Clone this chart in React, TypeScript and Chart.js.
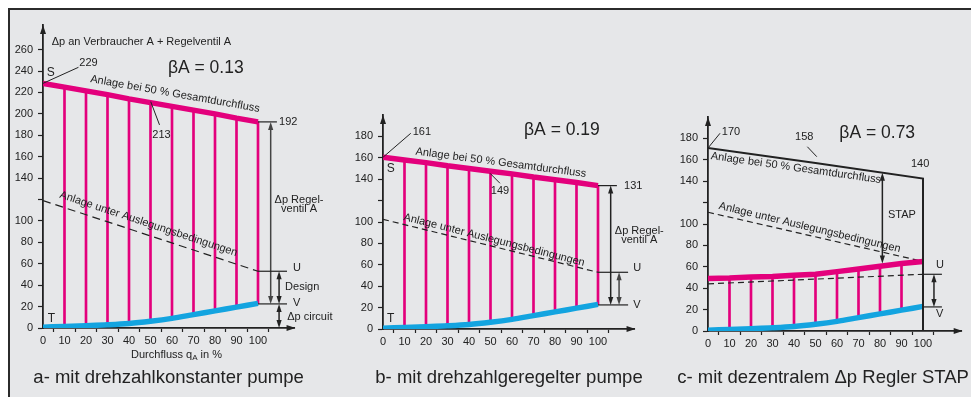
import React, { useEffect, useRef } from "react";
import { Chart, registerables } from "chart.js";
Chart.register(...registerables);

// ---------- data ----------
const FLOW = [0, 10, 20, 30, 40, 50, 60, 70, 80, 90, 100];
const ENDS = [0, 100];
const X_TICKS = [0, 10, 20, 30, 40, 50, 60, 70, 80, 90, 100];
// Δp circuit (curve T -> V), same in all three panels
const BLUE_T = [0.8, 1.5, 2.2, 3, 4.2, 6.3, 9, 12.5, 16, 19.5, 23];

// a- constant speed pump
const A_PINK = [228.5, 225, 221.5, 218, 214, 210.5, 207, 203.5, 200, 196, 192.5];
const A_DESIGN = [119, 53];
const A_Y_TICKS = [0, 20, 40, 60, 80, 100, 120, 140, 160, 180, 200, 220, 240, 260];

// b- variable speed pump
const B_PINK = [160.5, 158, 155.5, 152.5, 150, 147.5, 145, 142, 139.5, 137, 134];
const B_DESIGN = [102.5, 53];
const BC_Y_TICKS = [0, 20, 40, 60, 80, 100, 120, 140, 160, 180];

// c- decentral Δp controller STAP
const C_PINK = [49, 49.5, 50.5, 51, 52, 53, 55.5, 58, 60.5, 63, 65];
const C_FULL_X = [0, 50, 100, 100];
const C_FULL = [171, 157, 142.5, 0];
const C_DESIGN_UP = [111, 65];
const C_DESIGN_LOW = [44, 53];

const LEVEL_U = 53;
const LEVEL_V = 22.5;

// ---------- styles ----------
const FONT = '"Liberation Sans", Arial, Helvetica, sans-serif';
const INK = "#222222";
const PINK = "#e3007c";
const BLUE = "#13a4e0";
const BG = "#e6e7e9";

Chart.defaults.font.family = FONT;
Chart.defaults.color = INK;

const pts = (xs: number[], ys: number[]) => xs.map((x, i) => ({ x, y: ys[i] }));

function tri(ctx: CanvasRenderingContext2D, x: number, y: number, dir: string, len: number, hw: number) {
  ctx.beginPath();
  if (dir === "up") { ctx.moveTo(x, y); ctx.lineTo(x - hw, y + len); ctx.lineTo(x + hw, y + len); }
  else if (dir === "down") { ctx.moveTo(x, y); ctx.lineTo(x - hw, y - len); ctx.lineTo(x + hw, y - len); }
  else { ctx.moveTo(x, y); ctx.lineTo(x - len, y - hw); ctx.lineTo(x - len, y + hw); }
  ctx.closePath();
  ctx.fill();
}

function makePlugin(ops: any[]) {
  return {
    id: "annotations",
    afterDraw(chart: any) {
      const ctx: CanvasRenderingContext2D = chart.ctx;
      const ca = chart.chartArea;
      const X = (v: number) => chart.scales.x.getPixelForValue(v);
      const Y = (v: number) => chart.scales.y.getPixelForValue(v);
      ctx.save();
      ctx.fillStyle = INK;
      tri(ctx, ca.left, ca.top, "up", 9, 3);
      tri(ctx, ca.right + 1, ca.bottom, "right", 9, 3);
      for (const op of ops) {
        const col = op.c || INK;
        ctx.strokeStyle = col;
        ctx.fillStyle = col;
        if (op.k === "text") {
          ctx.font = `${op.size || 11}px ${FONT}`;
          ctx.textAlign = op.align || "left";
          ctx.textBaseline = "middle";
          ctx.save();
          ctx.translate(X(op.x), Y(op.y));
          if (op.rot) ctx.rotate((op.rot * Math.PI) / 180);
          ctx.fillText(op.s, 0, 0);
          ctx.restore();
        } else if (op.k === "line") {
          ctx.lineWidth = op.w || 1;
          ctx.beginPath();
          op.pts.forEach((p: number[], i: number) =>
            i ? ctx.lineTo(X(p[0]), Y(p[1])) : ctx.moveTo(X(p[0]), Y(p[1]))
          );
          ctx.stroke();
        } else if (op.k === "arrow") {
          const x = X(op.x), y1 = Y(op.y1), y2 = Y(op.y2);
          ctx.lineWidth = 1.5;
          ctx.beginPath();
          ctx.moveTo(x, y1 + 4);
          ctx.lineTo(x, y2 - 4);
          ctx.stroke();
          tri(ctx, x, y1, "up", 8, 2.6);
          tri(ctx, x, y2, "down", 8, 2.6);
        } else if (op.k === "rich") {
          let total = 0;
          const widths = op.parts.map((p: any) => {
            ctx.font = `${p.size}px ${FONT}`;
            const w = ctx.measureText(p.s).width;
            total += w;
            return w;
          });
          let x = X(op.x) - total / 2;
          const y = Y(op.y);
          ctx.textAlign = "left";
          ctx.textBaseline = "middle";
          op.parts.forEach((p: any, i: number) => {
            ctx.font = `${p.size}px ${FONT}`;
            ctx.fillText(p.s, x, y + (p.dy || 0));
            x += widths[i];
          });
        }
      }
      ctx.restore();
    },
  };
}

function buildConfig(p: any) {
  return {
    type: "line",
    data: { datasets: p.datasets },
    options: {
      responsive: false,
      animation: false,
      devicePixelRatio: 1,
      events: [],
      layout: { padding: p.padding },
      plugins: { legend: { display: false }, tooltip: { enabled: false } },
      scales: {
        x: {
          type: "linear",
          min: 0,
          max: p.xMax,
          offset: false,
          afterBuildTicks: (s: any) => { s.ticks = X_TICKS.map((v) => ({ value: v })); },
          afterFit: (s: any) => { s.height = 30; },
          ticks: { autoSkip: false, maxRotation: 0, padding: 2, color: INK, font: { size: 11 }, callback: (v: any) => String(v) },
          grid: { drawOnChartArea: false, drawTicks: true, tickLength: 4, tickColor: INK, tickWidth: 1.2 },
          border: { display: true, color: INK, width: 1.8 },
        },
        y: {
          type: "linear",
          min: 0,
          max: p.yMax,
          afterBuildTicks: (s: any) => { s.ticks = p.yTicks.map((v: number) => ({ value: v })); },
          afterFit: (s: any) => { s.width = 30; },
          ticks: { autoSkip: false, padding: 5, color: INK, font: { size: 11 }, callback: (v: any) => (v === 120 ? "" : String(v)) },
          grid: { drawOnChartArea: false, drawTicks: true, tickLength: 5, tickColor: INK, tickWidth: 1.2 },
          border: { display: true, color: INK, width: 1.8 },
        },
      },
    },
    plugins: [makePlugin(p.ops)],
  };
}

const pinkLine = (ys: number[]) => ({ type: "line", data: pts(FLOW, ys), borderColor: PINK, borderWidth: 5.5, pointRadius: 0, order: 0 });
const blueLine = () => ({ type: "line", data: pts(FLOW, BLUE_T), borderColor: BLUE, borderWidth: 5.5, pointRadius: 0, cubicInterpolationMode: "monotone", order: 1 });
const dashLine = (ys: number[], dash: number[]) => ({ type: "line", data: pts(ENDS, ys), borderColor: INK, borderWidth: 1.2, borderDash: dash, pointRadius: 0, order: 2 });
const verticals = (top: number[], n: number) => ({
  type: "bar",
  data: FLOW.slice(1, n + 1).map((x, i) => ({ x, y: [BLUE_T[i + 1], top[i + 1]] })),
  backgroundColor: PINK,
  borderWidth: 0,
  barThickness: 2,
  grouped: false,
  order: 3,
});

const TITLE = 18.5;

const PANEL_A = {
  xMax: 117,
  yMax: 283,
  yTicks: A_Y_TICKS,
  padding: { left: 13, top: 25, right: 676.45, bottom: 39 },
  datasets: [pinkLine(A_PINK), blueLine(), dashLine(A_DESIGN, [8, 5]), verticals(A_PINK, 10)],
  ops: [
    { k: "text", x: 4.05, y: 266.8, s: "Δp an Verbraucher A + Regelventil A" },
    { k: "text", x: 1.7, y: 238.6, s: "S", size: 12 },
    { k: "text", x: 16.9, y: 247.8, s: "229" },
    { k: "line", pts: [[0, 228.5], [16.5, 243.5]] },
    { k: "text", x: 58.1, y: 242.8, s: "βA = 0.13", size: 17.5 },
    { k: "text", x: 61.4, y: 218.6, s: "Anlage bei 50 % Gesamtdurchfluss", align: "center", rot: 10 },
    { k: "text", x: 55.1, y: 180.3, s: "213", align: "center" },
    { k: "line", pts: [[50.1, 211.4], [54.2, 189.7]] },
    { k: "text", x: 49.1, y: 97.2, s: "Anlage unter Auslegungsbedingungen", align: "center", rot: 18.3 },
    { k: "text", x: 2.2, y: 9.0, s: "T", size: 12 },
    { k: "line", pts: [[100, 192.5], [108.8, 192.5]], w: 1.2 },
    { k: "text", x: 109.8, y: 192.8, s: "192" },
    { k: "arrow", x: 105.9, y1: 192.5, y2: LEVEL_V, c: "#444" },
    { k: "text", x: 119.1, y: 119.6, s: "Δp Regel-", align: "center" },
    { k: "text", x: 119.1, y: 111.2, s: "ventil A", align: "center" },
    { k: "line", pts: [[100, LEVEL_U], [113.5, LEVEL_U]], w: 1.2 },
    { k: "line", pts: [[100, LEVEL_V], [113.5, LEVEL_V]], w: 1.2 },
    { k: "text", x: 116.3, y: 56.5, s: "U" },
    { k: "text", x: 116.3, y: 23, s: "V" },
    { k: "arrow", x: 109.8, y1: LEVEL_U, y2: LEVEL_V },
    { k: "text", x: 112.6, y: 38, s: "Design" },
    { k: "arrow", x: 109.8, y1: LEVEL_V, y2: 0 },
    { k: "text", x: 113.6, y: 10.6, s: "Δp circuit" },
    { k: "rich", x: 62.1, y: -25.2, parts: [{ s: "Durchfluss q", size: 11 }, { s: "A", size: 8, dy: 3 }, { s: " in %", size: 11 }] },
    { k: "text", x: 58.4, y: -46.7, s: "a- mit drehzahlkonstanter pumpe", align: "center", size: TITLE },
  ],
};

const PANEL_B = {
  xMax: 117,
  yMax: 200,
  yTicks: BC_Y_TICKS,
  padding: { left: 353, top: 115, right: 336.45, bottom: 38 },
  datasets: [pinkLine(B_PINK), blueLine(), dashLine(B_DESIGN, [6, 4]), verticals(B_PINK, 10)],
  ops: [
    { k: "text", x: 13.8, y: 183.8, s: "161" },
    { k: "line", pts: [[0, 160.5], [12.9, 182.9]] },
    { k: "text", x: 1.7, y: 150.2, s: "S", size: 12 },
    { k: "text", x: 54.8, y: 155.4, s: "Anlage bei 50 % Gesamtdurchfluss", align: "center", rot: 7.5 },
    { k: "text", x: 54.4, y: 129.3, s: "149", align: "center" },
    { k: "line", pts: [[49.8, 145.5], [54.4, 136.2]] },
    { k: "text", x: 65.6, y: 185.9, s: "βA = 0.19", size: 17.5 },
    { k: "text", x: 51.7, y: 83.2, s: "Anlage unter Auslegungsbedingungen", align: "center", rot: 14.3 },
    { k: "text", x: 1.9, y: 9.3, s: "T", size: 12 },
    { k: "line", pts: [[100, 134], [108.8, 134]], w: 1.2 },
    { k: "text", x: 112.1, y: 134, s: "131" },
    { k: "arrow", x: 105.9, y1: 134, y2: LEVEL_V },
    { k: "arrow", x: 109.8, y1: LEVEL_U, y2: LEVEL_V, c: "#444" },
    { k: "text", x: 119.2, y: 91.9, s: "Δp Regel-", align: "center" },
    { k: "text", x: 119.2, y: 83.2, s: "ventil A", align: "center" },
    { k: "line", pts: [[100, LEVEL_U], [114, LEVEL_U]], w: 1.2 },
    { k: "line", pts: [[100, LEVEL_V], [114, LEVEL_V]], w: 1.2 },
    { k: "text", x: 116.4, y: 57.2, s: "U" },
    { k: "text", x: 116.4, y: 22.7, s: "V" },
    { k: "text", x: 58.6, y: -45.5, s: "b- mit drehzahlgeregelter pumpe", align: "center", size: TITLE },
  ],
};

const PANEL_C = {
  xMax: 118,
  yMax: 200,
  yTicks: BC_Y_TICKS,
  padding: { left: 678, top: 117, right: 9.3, bottom: 36 },
  datasets: [
    { type: "line", data: pts(C_FULL_X, C_FULL), borderColor: INK, borderWidth: 2, pointRadius: 0, order: 0 },
    pinkLine(C_PINK),
    blueLine(),
    dashLine(C_DESIGN_UP, [6, 4]),
    dashLine(C_DESIGN_LOW, [6, 4]),
    verticals(C_PINK, 9),
  ],
  ops: [
    { k: "text", x: 6.4, y: 186.3, s: "170" },
    { k: "line", pts: [[0, 171], [5.6, 184.8]] },
    { k: "text", x: 40.5, y: 181.6, s: "158" },
    { k: "line", pts: [[46.2, 172.2], [50.6, 162.9]] },
    { k: "text", x: 61.1, y: 185.3, s: "βA = 0.73", size: 17.5 },
    { k: "text", x: 94.4, y: 155.9, s: "140" },
    { k: "text", x: 40.9, y: 152.3, s: "Anlage bei 50 % Gesamtdurchfluss", align: "center", rot: 8.1 },
    { k: "arrow", x: 81.1, y1: 148, y2: 63 },
    { k: "text", x: 83.7, y: 108.4, s: "STAP" },
    { k: "text", x: 47.3, y: 96.7, s: "Anlage unter Auslegungsbedingungen", align: "center", rot: 13.5 },
    { k: "line", pts: [[100, LEVEL_U], [108.8, LEVEL_U]], w: 1.2 },
    { k: "line", pts: [[100, LEVEL_V], [108.8, LEVEL_V]], w: 1.2 },
    { k: "arrow", x: 105.1, y1: LEVEL_U, y2: LEVEL_V },
    { k: "text", x: 106, y: 61.7, s: "U" },
    { k: "text", x: 106, y: 15.9, s: "V" },
    { k: "text", x: 53.5, y: -44.2, s: "c- mit dezentralem Δp Regler STAP", align: "center", size: TITLE },
  ],
};

function Panel({ cfg }: { cfg: any }) {
  const ref = useRef<HTMLCanvasElement>(null);
  useEffect(() => {
    const chart = new Chart(ref.current as HTMLCanvasElement, buildConfig(cfg) as any);
    return () => chart.destroy();
  }, []);
  return (
    <canvas
      ref={ref}
      width={971}
      height={397}
      style={{ position: "absolute", left: 0, top: 0, width: 971, height: 397 }}
    />
  );
}

export default function App() {
  return (
    <div style={{ position: "fixed", left: 0, top: 0, width: 971, height: 397, overflow: "hidden", background: "#ffffff" }}>
      <div
        style={{
          position: "absolute",
          left: 8,
          top: 8,
          width: 1000,
          height: 430,
          boxSizing: "border-box",
          border: "2.5px solid #2b2b2b",
          background: BG,
        }}
      />
      <Panel cfg={PANEL_A} />
      <Panel cfg={PANEL_B} />
      <Panel cfg={PANEL_C} />
    </div>
  );
}
